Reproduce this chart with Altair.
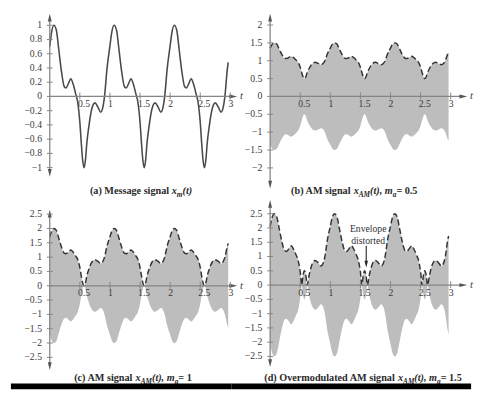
import altair as alt
import pandas as pd

# ---------------- data ----------------
t_msg = [
    0.00, 0.03, 0.07, 0.11, 0.15, 0.20, 0.24, 0.27, 0.31, 0.35, 0.39, 0.43, 0.46, 0.50,
    0.525, 0.545, 0.57, 0.595, 0.615, 0.65, 0.70, 0.75, 0.80, 0.845, 0.88, 0.91, 0.95,
    1.00, 1.03, 1.07, 1.11, 1.15, 1.20, 1.24, 1.27, 1.31, 1.35, 1.39, 1.43, 1.46, 1.50,
    1.525, 1.545, 1.57, 1.595, 1.615, 1.65, 1.70, 1.75, 1.80, 1.845, 1.88, 1.91, 1.95,
    2.00, 2.03, 2.07, 2.11, 2.15, 2.20, 2.24, 2.27, 2.31, 2.35, 2.39, 2.43, 2.46, 2.50,
    2.525, 2.545, 2.57, 2.595, 2.615, 2.65, 2.70, 2.75, 2.80, 2.845, 2.88, 2.91, 2.95, 2.965,
]
x_msg = [
    0.70, 0.90, 1.00, 0.93, 0.66, 0.32, 0.14, 0.12, 0.18, 0.25, 0.17, 0.04, -0.06, -0.36,
    -0.667, -0.88, -1.00, -0.88, -0.667, -0.42, -0.17, -0.09, -0.15, -0.22, -0.16, 0.00, 0.38,
    0.71, 0.90, 1.00, 0.93, 0.66, 0.32, 0.14, 0.12, 0.18, 0.25, 0.17, 0.04, -0.06, -0.36,
    -0.667, -0.88, -1.00, -0.88, -0.667, -0.42, -0.17, -0.09, -0.15, -0.22, -0.16, 0.00, 0.38,
    0.71, 0.90, 1.00, 0.93, 0.66, 0.32, 0.14, 0.12, 0.18, 0.25, 0.17, 0.04, -0.06, -0.36,
    -0.667, -0.88, -1.00, -0.88, -0.667, -0.42, -0.17, -0.09, -0.15, -0.22, -0.16, 0.00, 0.38, 0.48,
]

x_ticks = [0.5, 1, 1.5, 2, 2.5, 3]
x_tick_labels = ["0.5", "1", "1.5", "2", "2.5", "3"]

y_ticks_a = [1, 0.8, 0.6, 0.4, 0.2, 0, -0.2, -0.4, -0.6, -0.8, -1]
y_labels_a = ["1", "0.8", "0.6", "0.4", "0.2", "0", "−0.2", "−0.4", "−0.6", "−0.8", "−1"]
y_ticks_b = [2, 1.5, 1, 0.5, 0, -0.5, -1, -1.5, -2]
y_labels_b = ["2", "1.5", "1", "0.5", "0", "−0.5", "−1", "−1.5", "−2"]
y_ticks_cd = [2.5, 2, 1.5, 1, 0.5, 0, -0.5, -1, -1.5, -2, -2.5]
y_labels_cd = ["2.5", "2", "1.5", "1", "0.5", "0", "−0.5", "−1", "−1.5", "−2", "−2.5"]

mod_index = {"b": 0.5, "c": 1, "d": 1.5}

titles = {
    "a": [("(a) Message signal ", "b"), ("x", "i"), ("m", "s"), ("(t)", "i")],
    "b": [("(b) AM signal ", "b"), ("x", "i"), ("AM", "s"), ("(t), ", "i"), ("m", "i"), ("a", "s"), (" = 0.5", "b")],
    "c": [("(c) AM signal ", "b"), ("x", "i"), ("AM", "s"), ("(t), ", "i"), ("m", "i"), ("a", "s"), (" = 1", "b")],
    "d": [("(d) Overmodulated AM signal ", "b"), ("x", "i"), ("AM", "s"), ("(t), ", "i"), ("m", "i"), ("a", "s"), (" = 1.5", "b")],
}
annotation_lines = ["Envelope", "distorted"]

# ---------------- styling ----------------
SERIF = "Liberation Serif"
AXIS_COL = "#858585"
TEXT_COL = "#3a3a3a"
PPX = 62.0   # pixels per unit of t
AX = 40      # y-axis position inside each panel (px)
one = pd.DataFrame({"k": [0]})

BOLD = {' ': 250, '(': 333, ')': 333, ',': 250, '.': 250, '=': 570, 'A': 722, 'M': 944, 'O': 778,
        'a': 500, 'b': 556, 'c': 444, 'd': 556, 'e': 444, 'g': 500, 'i': 278, 'l': 278, 'm': 833,
        'n': 556, 'o': 500, 'r': 444, 's': 389, 't': 333, 'u': 556, 'v': 500, 'x': 500}
ITAL = {'(': 333, ')': 333, ',': 250, ' ': 250, 't': 278, 'x': 500, 'm': 778, 'a': 500, 'A': 667, 'M': 889}
T_SIZE, S_SIZE = 10.5, 7.5


def seg_width(s, kind):
    table = BOLD if kind == "b" else ITAL
    size = S_SIZE if kind == "s" else T_SIZE
    return sum(table.get(c, 500) for c in s) * size / 1000.0


def title_layers(segs, cx, ty):
    total = sum(seg_width(s, k) for s, k in segs)
    pos = cx - total / 2
    out = []
    for s, k in segs:
        out.append(
            alt.Chart(one).mark_text(
                text=s, align="left", baseline="alphabetic", font=SERIF,
                fontSize=S_SIZE if k == "s" else T_SIZE, fontWeight="bold",
                fontStyle="normal" if k == "b" else "italic", color="#2a2a2a",
            ).encode(x=alt.value(pos), y=alt.value(ty + (3 if k == "s" else 0)))
        )
        pos += seg_width(s, k)
    return out


def arrow(shape, px, py):
    return alt.Chart(one).mark_point(
        shape=shape, filled=True, size=64, color="#555555", opacity=1, strokeWidth=0
    ).encode(x=alt.value(px), y=alt.value(py))


UP = "M0,-1L0.5,1L-0.5,1Z"
DOWN = "M0,1L0.5,-1L-0.5,-1Z"
RIGHT = "M1,0L-1,-0.5L-1,0.5Z"


def panel(key, width, height, y0, ppu, yt, yl, ytop, ybot, xend, tcx, ty,
          annotate=False, bar=False):
    xs = alt.Scale(domain=[-AX / PPX, (width - AX) / PPX], nice=False, zero=False)
    ys = alt.Scale(domain=[-(height - y0) / ppu, y0 / ppu], nice=False, zero=False)
    df = pd.DataFrame({"t": t_msg, "x": x_msg})
    layers = []
    if key == "a":
        layers.append(
            alt.Chart(df).mark_line(color="#4a4a4a", strokeWidth=1.6, interpolate="monotone").encode(
                x=alt.X("t:Q", scale=xs, axis=None), y=alt.Y("x:Q", scale=ys, axis=None))
        )
    else:
        m = mod_index[key]
        base = alt.Chart(df).transform_calculate(
            env=f"abs(1 + {m} * datum.x)", neg=f"-abs(1 + {m} * datum.x)")
        layers.append(
            base.mark_area(color="#bdbdbd", interpolate="monotone").encode(
                x=alt.X("t:Q", scale=xs, axis=None), y=alt.Y("env:Q", scale=ys, axis=None),
                y2=alt.Y2("neg:Q"))
        )
        layers.append(
            base.mark_line(color="#333333", strokeWidth=1.5, strokeDash=[6, 3],
                           interpolate="monotone").encode(
                x=alt.X("t:Q", scale=xs, axis=None), y=alt.Y("env:Q", scale=ys, axis=None))
        )
    # axes lines
    layers.append(alt.Chart(one).mark_rule(color=AXIS_COL, strokeWidth=1.3).encode(
        x=alt.value(AX), x2=alt.value(xend - 4), y=alt.value(y0)))
    layers.append(alt.Chart(one).mark_rule(color=AXIS_COL, strokeWidth=1.3).encode(
        x=alt.value(AX), y=alt.value(ytop + 4), y2=alt.value(ybot - 4)))
    layers += [arrow(UP, AX, ytop + 4), arrow(DOWN, AX, ybot - 4), arrow(RIGHT, xend - 4, y0)]
    layers.append(alt.Chart(one).mark_text(
        text="t", fontStyle="italic", font=SERIF, fontSize=11, align="left", baseline="middle",
        color=TEXT_COL).encode(x=alt.value(xend + 3), y=alt.value(y0)))
    # ticks
    ydf = pd.DataFrame({"v": yt, "lab": yl})
    xdf = pd.DataFrame({"v": x_ticks, "lab": x_tick_labels})
    layers.append(alt.Chart(ydf).mark_rule(color=AXIS_COL, strokeWidth=1).encode(
        x=alt.value(AX - 3), x2=alt.value(AX + 3), y=alt.Y("v:Q", scale=ys, axis=None)))
    layers.append(alt.Chart(ydf).mark_text(
        align="right", baseline="middle", font=SERIF, fontSize=10, color=TEXT_COL).encode(
        x=alt.value(AX - 8), y=alt.Y("v:Q", scale=ys, axis=None), text="lab:N"))
    layers.append(alt.Chart(xdf).mark_rule(color=AXIS_COL, strokeWidth=1).encode(
        x=alt.X("v:Q", scale=xs, axis=None), y=alt.value(y0 - 4), y2=alt.value(y0 + 3)))
    layers.append(alt.Chart(xdf).mark_text(
        align="left", baseline="top", font=SERIF, fontSize=10, color=TEXT_COL, dx=-2).encode(
        x=alt.X("v:Q", scale=xs, axis=None), y=alt.value(y0 + 3), text="lab:N"))
    layers += title_layers(titles[key], tcx, ty)
    if annotate:
        layers.append(alt.Chart(one).mark_text(
            text=annotation_lines[0], font=SERIF, fontSize=10, color="#333333", align="center",
            baseline="middle").encode(x=alt.value(141), y=alt.value(27)))
        layers.append(alt.Chart(one).mark_text(
            text=annotation_lines[1], font=SERIF, fontSize=10, color="#333333", align="center",
            baseline="middle").encode(x=alt.value(141), y=alt.value(39)))
        layers.append(alt.Chart(one).mark_rule(color="#333333", strokeWidth=1.2).encode(
            x=alt.value(139), y=alt.value(44), y2=alt.value(61)))
        layers.append(alt.Chart(one).mark_point(
            shape=DOWN, filled=True, size=50, color="#222222", opacity=1, strokeWidth=0).encode(
            x=alt.value(139), y=alt.value(63)))
    if bar:
        layers.append(alt.Chart(one).mark_rule(color="#000000", strokeWidth=6).encode(
            x=alt.value(0), x2=alt.value(width), y=alt.value(189)))
    return alt.layer(*layers).properties(width=width, height=height)


pa = panel("a", 227, 195, 85.3, 73.3, y_ticks_a, y_labels_a, 0, 168, 233, 134, 185.5)
pb = panel("b", 247, 195, 85.3, 36.8, y_ticks_b, y_labels_b, 0, 180, 243, 128, 185.5)
pc = panel("c", 227, 192, 85.3, 29.5, y_ticks_cd, y_labels_cd, 7, 172, 233, 127, 183.5, bar=True)
pd_ = panel("d", 247, 192, 84.6, 29.4, y_ticks_cd, y_labels_cd, -3, 169, 243, 137, 183.5,
            annotate=True, bar=True)

chart = alt.concat(pa, pb, pc, pd_, columns=2, spacing=0, bounds="flush").properties(
    padding=0
).configure_view(stroke=None, fill=None)

chart.save("out.html", embed_options={"renderer": "svg", "actions": False})
